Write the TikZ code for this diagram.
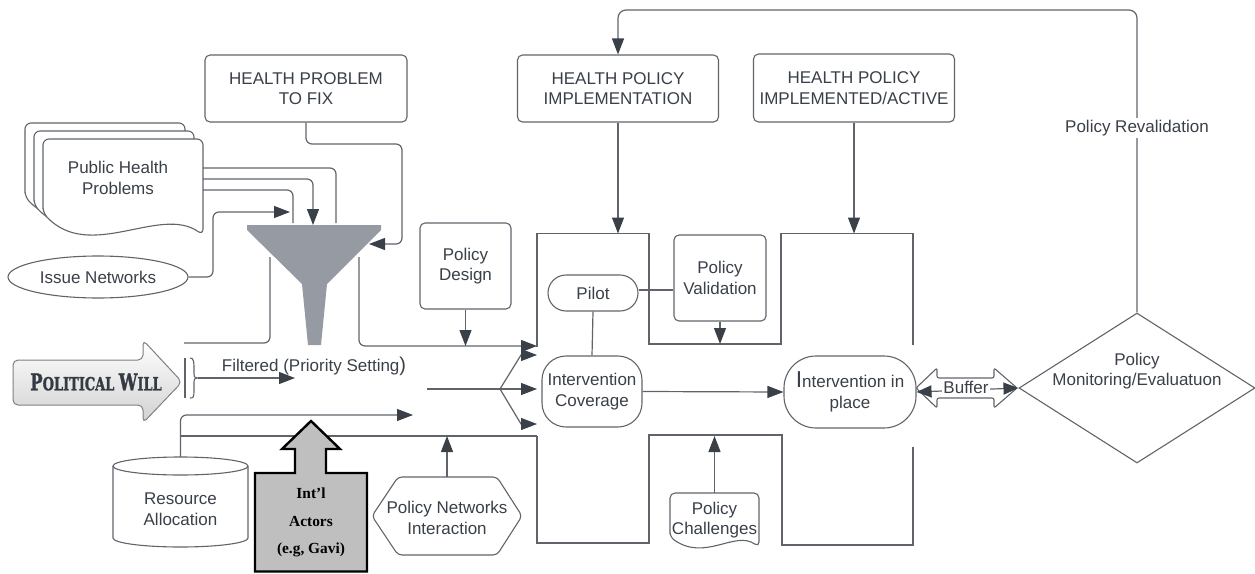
\documentclass[tikz,border=0pt]{standalone}
\usepackage{graphicx}
\usepackage{fontspec}
\setmainfont{Liberation Sans}
\newfontfamily\serifb{Liberation Serif}
\newfontfamily\slabb{DejaVu Serif}[BoldFeatures={FakeBold=1.6}]
\usetikzlibrary{arrows.meta,shapes.geometric}
\definecolor{lc}{RGB}{96,100,106}
\definecolor{ah}{RGB}{58,64,72}
\definecolor{tc}{RGB}{58,64,72}
\definecolor{fun}{RGB}{150,155,163}
\definecolor{actg}{RGB}{191,191,191}
\definecolor{pwc}{RGB}{52,58,68}

\begin{document}
\begin{tikzpicture}[x=1pt,y=-1pt,
  every node/.style={text=tc, font=\fontsize{17}{20.5}\selectfont, align=center, inner sep=0pt},
  conn/.style={draw=lc, line width=1.2pt, rounded corners=6pt},
  arr/.style={conn, -{Triangle[length=16pt,width=12pt,color=ah]}},
  box/.style={draw=lc, line width=1.1pt, rounded corners=5pt, fill=white},
  ghost/.style={inner sep=0pt}
]
\useasboundingbox (0,0) rectangle (1255,573);

% ---- top row of headings
\node[box, minimum width=202pt, minimum height=67pt] (hpf) at (306,88.5) {HEALTH PROBLEM\\TO FIX};
\node[box, minimum width=201pt, minimum height=67pt] (hpi) at (618,88.5) {HEALTH POLICY\\IMPLEMENTATION};
\node[box, minimum width=201pt, minimum height=68pt] (hpa) at (854,88) {HEALTH POLICY\\IMPLEMENTED/ACTIVE};

% ---- stacked documents: public health problems
\foreach \dx/\dy in {-18/-16,-9/-8,0/0}{
  \draw[box, rounded corners=6pt, shift={(\dx,\dy)}]
    (43,213) -- (43,139) -- (203,139) -- (203,235)
    .. controls (160,205) and (90,262) .. (43,213) -- cycle;
}
\node[ghost, minimum width=160pt, minimum height=76pt] (php) at (123,177) {};
\node (phpt) at (118,178) {Public Health\\Problems};

% ---- issue networks
\node[draw=lc, line width=1.1pt, ellipse, fill=white, minimum width=180pt, minimum height=42pt] (isn) at (98,277) {Issue Networks};

% ---- inputs into the funnel
\draw[conn] ([yshift=9pt]php.east) -- (336,168) -- (336,223);
\draw[arr] ([yshift=-2pt]php.east) -- (313,179) -- (313,225);
\draw[conn] ([yshift=-13pt]php.east) -- (293,190) -- (293,223);
\draw[arr] (isn.east) -- (213,277) -- (213,212) -- (290,212);
\draw[arr] (hpf.south) -- (306,144) -- (402,144) -- (402,244) -- (369,244);

% ---- funnel
\fill[fun] (247,225) -- (381,225) -- (381,230) -- (327,284) -- (321,345)
  -- (308,345) -- (302,284) -- (247,230) -- cycle;

% ---- walls beside the funnel
\draw[conn] (184,343) -- (270,343) -- (270,257);
\draw[arr] (359,257) -- (359,346) -- (537,346);

% ---- policy design
\node[box, minimum width=91pt, minimum height=86pt] (pd) at (465.5,266) {Policy\\Design};
\draw[arr] (pd.south) -- (465.5,346);

% ---- implementation channel walls
\draw[conn, rounded corners=0pt] (537,347) -- (537,233.5) -- (649,233.5) -- (649,344)
  -- (781,344) -- (781,233.5) -- (913,233.5) -- (913,345);
\draw[conn, rounded corners=0pt] (537,436) -- (537,543) -- (649,543) -- (649,435)
  -- (782,435) -- (782,545) -- (913,545) -- (913,447);

\draw[arr] (hpi.south) -- (618,233.5);
\draw[arr] (hpa.south) -- (854,233.5);

% ---- pilot, validation, coverage
\node[box, rounded corners=18pt, minimum width=90pt, minimum height=36pt] (pil) at (593,293) {Pilot};
\node[box, minimum width=92pt, minimum height=86pt] (pv) at (720,278) {Policy\\Validation};
\draw[conn] ([yshift=3pt]pil.east) -- ([yshift=3pt]pil.east -| pv.west);
\draw[arr] (pv.south) -- (720,344);

\node[box, rounded corners=24pt, minimum width=100pt, minimum height=71pt] (ic) at (592,391.5) {Intervention\\Coverage};
\draw[conn] (pil.south) -- (ic.north);

\node[box, rounded corners=32pt, minimum width=132pt, minimum height=72pt] (iip) at (850,392)
  {{\fontsize{23}{20}\selectfont I}ntervention in\\place};
\draw[arr] (ic.east) -- (iip.west);

% ---- fan into the channel
\coordinate (fs) at (427,389);
\coordinate (fb) at (500,389);
\draw[conn, rounded corners=0pt] (fs) -- (fb);
\draw[arr, rounded corners=0pt] (fb) -- (521,355) -- (537,355);
\draw[arr, rounded corners=0pt] (fb) -- (537,389);
\draw[arr, rounded corners=0pt] (fb) -- (521,424) -- (537,424);

% ---- political will
\draw[draw=black!50, line width=1pt, top color=white, bottom color=black!18, rounded corners=5pt]
  (13,360) -- (143,360) -- (143,340) -- (182,382) -- (143,423) -- (143,405) -- (13,405) -- cycle;
\node[font=\slabb\bfseries, text=pwc] (pw) at (96,382)
  {\scalebox{0.72}[1]{\fontsize{23}{23}\selectfont P\fontsize{18}{18}\selectfont OLITICAL
   \fontsize{23}{23}\selectfont W\fontsize{18}{18}\selectfont ILL}};
\draw[draw=lc, line width=1.1pt] (185,358) -- (185,398);
\draw[draw=lc, line width=1.1pt] (190,358) .. controls (194,358) and (194,362) .. (194,370)
  -- (194,374) .. controls (194,378) and (196,378) .. (198,378)
  .. controls (196,378) and (194,378) .. (194,382) -- (194,390)
  .. controls (194,398) and (193,398) .. (190,398);
\coordinate (br) at (198,378);
\draw[arr] (br) -- (295,378);
\node (flt) at (314,366) {Filtered (Priority Setting{\fontsize{20}{20}\selectfont )}};

% ---- resource allocation (cylinder)
\draw[box, rounded corners=0pt]
  (113,466) -- (113,538) .. controls (113,543) and (143.2,547) .. (180.5,547)
  .. controls (217.8,547) and (248,543) .. (248,538) -- (248,466)
  .. controls (248,461) and (217.8,457) .. (180.5,457)
  .. controls (143.2,457) and (113,461) .. (113,466) -- cycle;
\draw[draw=lc, line width=1.1pt] (113,466) .. controls (113,471) and (143.2,475) .. (180.5,475)
  .. controls (217.8,475) and (248,471) .. (248,466);
\node[ghost, minimum width=135pt, minimum height=90pt] (ra) at (180.5,502) {};
\node (rat) at (180.5,509) {Resource\\Allocation};
\draw[arr] (ra.north) -- (180.5,415) -- (413,415);
\coordinate (rj) at (180.5,436);
\draw[conn, rounded corners=0pt] (rj) -- (537,436);

% ---- international actors
\draw[fill=actg, draw=black, line width=2.4pt, line join=miter]
  (255,473) -- (295,473) -- (295,449) -- (282,449) -- (311,421) -- (340,449)
  -- (326,449) -- (326,473) -- (367,473) -- (367,571.5) -- (255,571.5) -- cycle;
\node[font=\serifb\bfseries\fontsize{15.4}{27.5}\selectfont, text=black] (ia) at (311,522.5)
  {Int’l\\Actors\\(e.g, Gavi)};

% ---- policy networks interaction (hexagon)
\draw[box, rounded corners=4pt] (372,516) -- (398,477) -- (497,477) -- (522,516)
  -- (497,555) -- (398,555) -- cycle;
\node[ghost, minimum width=150pt, minimum height=78pt] (pni) at (447,516) {};
\node (pnit) at (447,518) {Policy Networks\\Interaction};
\draw[arr] (pni.north) -- (447,436);

% ---- policy challenges (document)
\draw[box, rounded corners=5pt] (670,537) -- (670,493) -- (759,493) -- (759,547)
  .. controls (735,530) and (705,562) .. (670,537) -- cycle;
\node[ghost, minimum width=89pt, minimum height=44pt] (pc) at (714.5,515) {};
\node (pct) at (714.5,520) {Policy\\Challenges};
\draw[arr] (pc.north) -- (714.5,436);

% ---- monitoring / evaluation
\node[draw=lc, line width=1.1pt, diamond, minimum width=236pt, minimum height=150pt] (pme) at (1137,388) {};
\node (pmet) at (1137,371) {Policy\\Monitoring/Evaluatuon};

% ---- buffer between intervention and evaluation
\draw[box, rounded corners=2pt] (916,388) -- (937,368) -- (937,378) -- (994,378) -- (994,368)
  -- (1017,388) -- (994,408) -- (994,398) -- (937,398) -- (937,408) -- cycle;
\draw[conn, {Triangle[length=15pt,width=12pt,color=ah]}-{Triangle[length=15pt,width=12pt,color=ah]}] (iip.east) -- (pme.west);
\node[fill=white, inner sep=1pt] (buf) at (966,387) {Buffer};

% ---- revalidation loop
\draw[arr, rounded corners=8pt] (pme.north) -- (1137,10) -- (618,10) -- (hpi.north);
\node[fill=white, inner sep=2pt] (prv) at (1137,128) {Policy Revalidation};

\end{tikzpicture}
\end{document}
